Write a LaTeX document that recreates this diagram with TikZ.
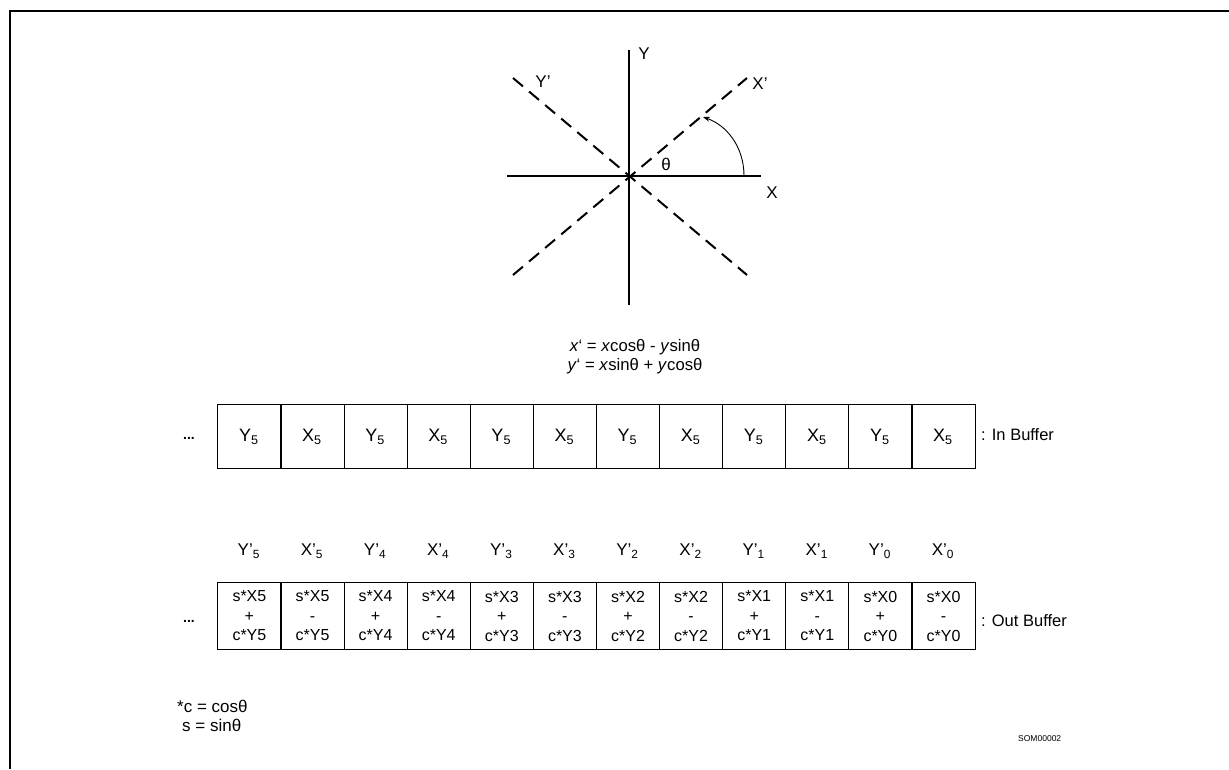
\documentclass[tikz,border=0pt]{standalone}
\usepackage{fontspec}
\setmainfont{Liberation Sans}
\usetikzlibrary{arrows.meta}
\begin{document}
\begin{tikzpicture}[x=1pt,y=-1pt,
  frame/.style={line width=2.5pt},
  axisline/.style={line width=1.4pt},
  daxis/.style={line width=2pt, dash pattern=on 13pt off 8pt},
  lbl/.style={inner sep=0pt, font=\fontsize{17}{20}\selectfont},
  cellin/.style={draw, line width=1.1pt, minimum width=63.1pt, minimum height=64pt, inner sep=0pt},
  celltxt/.style={inner sep=0pt, font=\fontsize{18}{21}\selectfont},
  cellout/.style={draw, line width=1.1pt, minimum width=63.1pt, minimum height=67pt, inner sep=0pt, align=center, font=\fontsize{16}{19.5}\selectfont},
  hdr/.style={inner sep=0pt, font=\fontsize{17}{20}\selectfont},
]
\useasboundingbox (0,0) rectangle (1229,769);
\fill[white] (0,0) rectangle (1229,769);
% frame
\coordinate (fr1) at (1229,11);
\coordinate (fr2) at (10,11);
\coordinate (fr3) at (10,769);
\draw[frame] (fr1) -- (fr2) -- (fr3);
% axes
\coordinate (O) at (629,176);
\coordinate (yt) at (629,50);
\coordinate (yb) at (629,305);
\coordinate (xl) at (507,176);
\coordinate (xr) at (761,176);
\coordinate (xpa) at (513,275);
\coordinate (xpb) at (747,78);
\coordinate (ypa) at (513,78);
\coordinate (ypb) at (747,275);
\draw[axisline] (yt) -- (yb);
\draw[axisline] (xl) -- (xr);
\draw[daxis] (xpa) -- (xpb);
\draw[daxis] (ypa) -- (ypb);
\coordinate (arcs) at (744,176);
\coordinate (arce) at (703,117);
\draw[line width=0.9pt,-{Stealth[length=7pt,width=5pt]}] (arcs) .. controls (744,146) and (726,125) .. (arce);
\node[lbl] (lY) at (644,54) {Y};
\node[lbl] (lX) at (772,193) {X};
\node[lbl] (lYp) at (543,82) {Y’};
\node[lbl] (lXp) at (760,84) {X’};
\node[lbl] (lth) at (666,164) {θ};
% formulas
\node[lbl, font=\fontsize{16.7}{19}\selectfont] (f1) at (635,347) {\textit{x}‘ = \textit{x}cosθ - \textit{y}sinθ};
\node[lbl, font=\fontsize{16.7}{19}\selectfont] (f2) at (635,366) {\textit{y}‘ = \textit{x}sinθ + \textit{y}cosθ};
% in buffer
\foreach \i in {0,...,11}{
  \pgfmathtruncatemacro{\odd}{mod(\i,2)}
  \node[cellin, anchor=north west] (in\i) at ({217.3+63.1*\i},404) {};
  \ifnum\odd=0
    \node[celltxt] (int\i) at ({217.3+63.1*\i+31.55},437) {Y\textsubscript{5}};
  \else
    \node[celltxt] (int\i) at ({217.3+63.1*\i+31.55},437) {X\textsubscript{5}};
  \fi
}
\node[lbl, font=\bfseries\fontsize{14}{16}\selectfont] (dots1) at (189,438) {...};
\node[lbl, anchor=west, font=\fontsize{16.5}{19}\selectfont] (inbuf) at (981,435) {: In Buffer};
% out buffer
\foreach \i in {0,...,11}{
  \pgfmathtruncatemacro{\odd}{mod(\i,2)}
  \pgfmathtruncatemacro{\k}{5-floor(\i/2)}
  \ifnum\odd=0
    \node[cellout, anchor=north west] (out\i) at ({217.3+63.1*\i},582) {s*X\k\\+\\c*Y\k};
    \node[hdr] (h\i) at ({217.3+63.1*\i+31.55},551) {Y’\textsubscript{\k}};
  \else
    \node[cellout, anchor=north west] (out\i) at ({217.3+63.1*\i},582) {s*X\k\\-\\c*Y\k};
    \node[hdr] (h\i) at ({217.3+63.1*\i+31.55},551) {X’\textsubscript{\k}};
  \fi
}
\node[lbl, font=\bfseries\fontsize{14}{16}\selectfont] (dots2) at (189,621) {...};
\node[lbl, anchor=west, font=\fontsize{16.5}{19}\selectfont] (outbuf) at (981,621) {: Out Buffer};
% footnote
\node[lbl, anchor=west] (fn1) at (177,706) {*c = cosθ};
\node[lbl, anchor=west] (fn2) at (182,725) {s = sinθ};
\node[lbl, anchor=west, font=\fontsize{8.5}{10}\selectfont] (som) at (1018,739) {SOM00002};
\end{tikzpicture}
\end{document}
